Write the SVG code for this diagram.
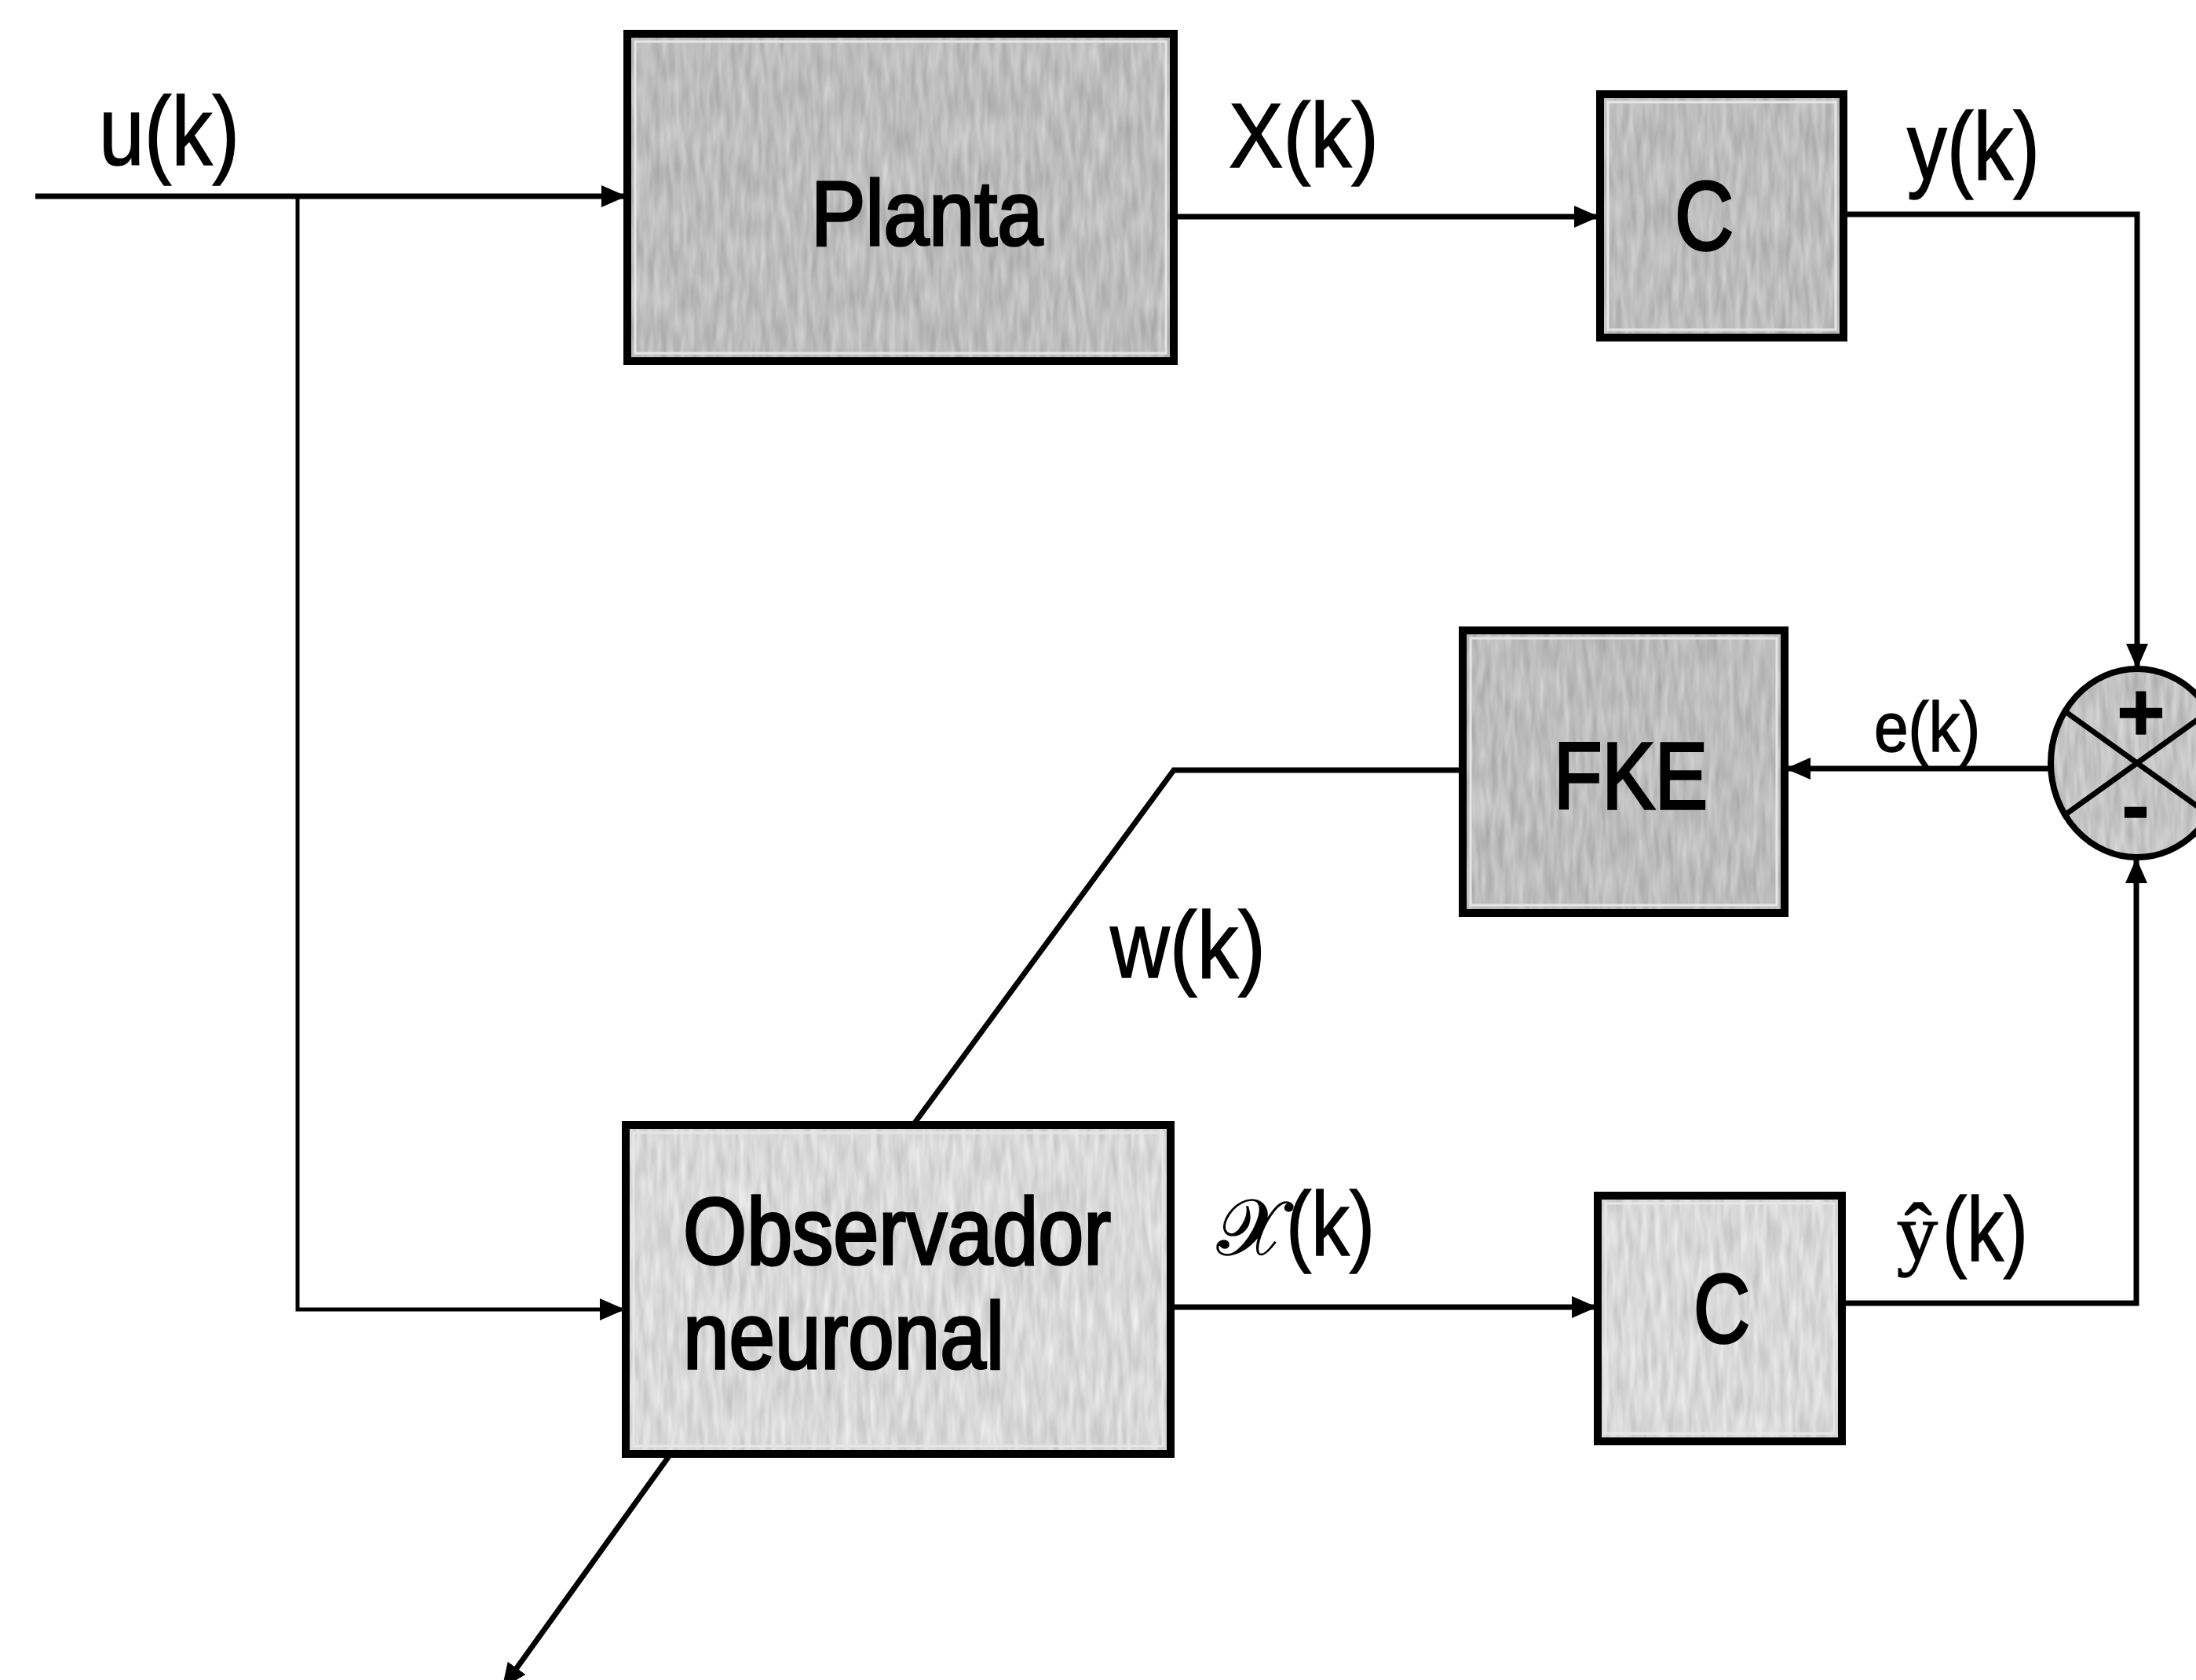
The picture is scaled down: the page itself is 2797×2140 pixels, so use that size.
<svg xmlns="http://www.w3.org/2000/svg" width="2797" height="2140" viewBox="0 0 2797 2140">
<defs>
<style>
.box{fill:none;stroke:#000;stroke-width:10}
.dark{fill:#bdbdbd;filter:url(#grain)}
.light{fill:#d9d9d9;filter:url(#grain)}
.inner{fill:none;stroke:#e6e6e6;stroke-width:3}
.wire{fill:none;stroke:#000;stroke-width:7;stroke-linejoin:miter}
.thin{stroke-width:5}
.lbl{font-family:"Liberation Sans",Arial,sans-serif;fill:#000;stroke:#000;stroke-width:1.5}
.btxt{font-family:"Liberation Sans",Arial,sans-serif;fill:#000;stroke:#000;stroke-width:3.5}
.serif{font-family:"Liberation Serif","DejaVu Serif",serif}
</style>
<filter id="grain" x="0" y="0" width="1" height="1" color-interpolation-filters="sRGB">
<feTurbulence type="fractalNoise" baseFrequency="0.12 0.02" numOctaves="2" seed="7" result="t"/>
<feColorMatrix in="t" type="matrix" values="1 0 0 0 0  1 0 0 0 0  1 0 0 0 0  0 0 0 0 1" result="g"/>
<feComposite in="SourceGraphic" in2="g" operator="arithmetic" k1="0" k2="1" k3="0.22" k4="-0.11" result="c"/>
<feComposite in="c" in2="SourceGraphic" operator="in"/>
</filter>
<marker id="arr" viewBox="0 0 32 28" refX="31" refY="14" markerWidth="32" markerHeight="28" markerUnits="userSpaceOnUse" orient="auto">
<path d="M0,0 L32,14 L0,28 z" fill="#000"/>
</marker>
</defs>
<rect width="2797" height="2140" fill="#fff"/>

<g id="connectors">
<path class="wire" d="M45,250 H797" marker-end="url(#arr)"/>
<path class="wire thin" d="M379,250 V1668 H795" marker-end="url(#arr)"/>
<path class="wire" d="M1495,276 H2036" marker-end="url(#arr)"/>
<path class="wire" d="M2348,273 H2722 V851" marker-end="url(#arr)"/>
<path class="wire" d="M2612,979 H2275" marker-end="url(#arr)"/>
<path class="wire" d="M1863,981 H1495 L1163,1433"/>
<path class="wire" d="M1491,1665 H2033" marker-end="url(#arr)"/>
<path class="wire" d="M2346,1660 H2721 V1094" marker-end="url(#arr)"/>
<path class="wire" d="M852,1855 L640,2150" marker-end="url(#arr)"/>
</g>

<g id="node-planta">
<rect class="dark" x="799" y="43" width="696" height="417"/>
<rect class="inner" x="809" y="53" width="676" height="397"/>
<rect class="box" x="799" y="43" width="696" height="417"/>
<text class="btxt" x="1033" y="312" font-size="117" textLength="295" lengthAdjust="spacingAndGlyphs">Planta</text>
</g>

<g id="node-c1">
<rect class="dark" x="2038" y="120" width="310" height="310"/>
<rect class="inner" x="2048" y="130" width="290" height="290"/>
<rect class="box" x="2038" y="120" width="310" height="310"/>
<text class="btxt" x="2133" y="318" font-size="125" textLength="75" lengthAdjust="spacingAndGlyphs">C</text>
</g>

<g id="node-fke">
<rect class="dark" x="1863" y="803" width="410" height="360"/>
<rect class="inner" x="1873" y="813" width="390" height="340"/>
<rect class="box" x="1863" y="803" width="410" height="360"/>
<text class="btxt" x="1979" y="1030" font-size="120" textLength="196" lengthAdjust="spacingAndGlyphs">FKE</text>
</g>

<g id="node-sum">
<ellipse cx="2722" cy="972" rx="110" ry="120" fill="#c4c4c4" style="filter:url(#grain)"/>
<ellipse cx="2722" cy="972" rx="110" ry="120" fill="none" stroke="#000" stroke-width="8"/>
<line x1="2630" y1="906" x2="2814" y2="1038" stroke="#000" stroke-width="7"/>
<line x1="2630" y1="1038" x2="2814" y2="906" stroke="#000" stroke-width="7"/>
<text class="lbl" x="2727" y="943" font-size="105" font-weight="bold" text-anchor="middle">+</text>
<text class="lbl" x="2720" y="1062" font-size="105" font-weight="bold" text-anchor="middle">-</text>
</g>

<g id="node-obs">
<rect class="light" x="797" y="1433" width="694" height="419"/>
<rect class="inner" x="807" y="1443" width="674" height="399"/>
<rect class="box" x="797" y="1433" width="694" height="419"/>
<text class="btxt" x="870" y="1610" font-size="120" textLength="545" lengthAdjust="spacingAndGlyphs">Observador</text>
<text class="btxt" x="870" y="1743" font-size="120" textLength="409" lengthAdjust="spacingAndGlyphs">neuronal</text>
</g>

<g id="node-c2">
<rect class="light" x="2035" y="1523" width="311" height="313"/>
<rect class="inner" x="2045" y="1533" width="291" height="293"/>
<rect class="box" x="2035" y="1523" width="311" height="313"/>
<text class="btxt" x="2157" y="1710" font-size="125" textLength="72" lengthAdjust="spacingAndGlyphs">C</text>
</g>

<g id="labels">
<text class="lbl" x="126" y="210" font-size="125" textLength="179" lengthAdjust="spacingAndGlyphs">u(k)</text>
<text class="lbl" x="1565" y="213" font-size="116" textLength="191" lengthAdjust="spacingAndGlyphs">X(k)</text>
<text class="lbl" x="2429" y="229" font-size="122" textLength="169" lengthAdjust="spacingAndGlyphs">y(k)</text>
<text class="lbl" x="2387" y="957" font-size="89" textLength="135" lengthAdjust="spacingAndGlyphs">e(k)</text>
<text class="lbl" x="1414" y="1245" font-size="120" textLength="198" lengthAdjust="spacingAndGlyphs">w(k)</text>
<text class="lbl" x="1550" y="1598" font-size="100" font-family="'DejaVu Serif','DejaVu Sans','Liberation Serif',serif">𝒳</text>
<text class="lbl" x="1638" y="1598" font-size="115" textLength="113" lengthAdjust="spacingAndGlyphs">(k)</text>
<text class="lbl serif" x="2416" y="1605" font-size="104">ŷ</text>
<text class="lbl" x="2474" y="1605" font-size="115" textLength="109" lengthAdjust="spacingAndGlyphs">(k)</text>
</g>
</svg>
